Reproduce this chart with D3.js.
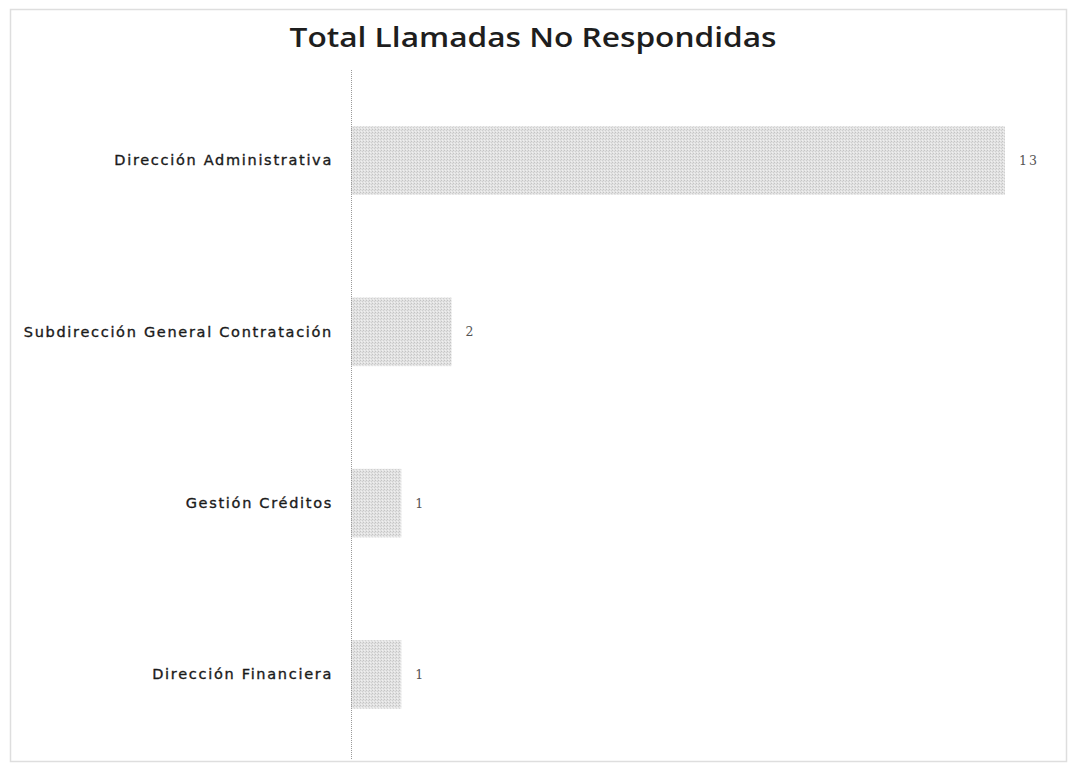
<!DOCTYPE html>
<html>
<head>
<meta charset="utf-8">
<script src="https://cdn.jsdelivr.net/npm/d3@7"></script>
<style>
  html, body { margin: 0; padding: 0; background: #fff; }
  svg { display: block; }
</style>
</head>
<body>
<svg id="chart" width="1071" height="774"></svg>
<script>
// Unanswered calls per department
const categories = [
  "Dirección Administrativa",
  "Subdirección General Contratación",
  "Gestión Créditos",
  "Dirección Financiera"
];
const values = [13, 2, 1, 1];
const chartTitle = "Total Llamadas No Respondidas";

const svg = d3.select("#chart");
const W = 1071, H = 774;

// Frame around the chart area
svg.append("rect")
  .attr("x", 10.5).attr("y", 9.5)
  .attr("width", W - 15).attr("height", H - 22)
  .attr("fill", "#fff")
  .attr("stroke", "#dedede")
  .attr("stroke-width", 1.5);

// Halftone-like fill for the bars
const defs = svg.append("defs");
const pat = defs.append("pattern")
  .attr("id", "barTex")
  .attr("patternUnits", "userSpaceOnUse")
  .attr("width", 3).attr("height", 3);
pat.append("rect").attr("width", 3).attr("height", 3).attr("fill", "#e2e2e2");
pat.append("rect").attr("x", 0).attr("y", 0).attr("width", 1).attr("height", 1).attr("fill", "#c4c4c4");
pat.append("rect").attr("x", 2).attr("y", 1).attr("width", 1).attr("height", 1).attr("fill", "#cfcfcf");
pat.append("rect").attr("x", 1).attr("y", 2).attr("width", 1).attr("height", 1).attr("fill", "#f0f0f0");

const margin = { left: 351, right: 66, top: 75, bottom: 14 };

const x = d3.scaleLinear()
  .domain([0, 13])
  .range([margin.left, W - margin.right]);

const y = d3.scaleBand()
  .domain(categories)
  .range([margin.top, H - margin.bottom])
  .paddingInner(0.6)
  .paddingOuter(0.3);

// Title
svg.append("text")
  .attr("x", 533)
  .attr("y", 47)
  .attr("text-anchor", "middle")
  .attr("font-family", "'Open Sans', Lato, sans-serif")
  .attr("font-weight", 600)
  .attr("font-size", 27)
  .attr("fill", "#1e1e1e")
  .attr("textLength", 487)
  .attr("lengthAdjust", "spacingAndGlyphs")
  .text(chartTitle);

// Bars
svg.append("g")
  .selectAll("rect")
  .data(values)
  .join("rect")
  .attr("x", x(0))
  .attr("y", (d, i) => y(categories[i]))
  .attr("width", d => x(d) - x(0))
  .attr("height", y.bandwidth())
  .attr("fill", "url(#barTex)");

// Category axis
const yAxis = d3.axisLeft(y).tickSize(0).tickPadding(18);
const gy = svg.append("g")
  .attr("transform", `translate(${x(0)},0)`)
  .call(yAxis);
gy.select(".domain").remove();
gy.append("line")
  .attr("x1", 0.5).attr("x2", 0.5)
  .attr("y1", 70).attr("y2", 760)
  .attr("stroke", "#9a9a9a")
  .attr("stroke-width", 1)
  .attr("stroke-dasharray", "1,1");
gy.selectAll(".tick text")
  .attr("font-family", "'DejaVu Sans', Verdana, sans-serif")
  .attr("font-size", 14.5)
  .attr("letter-spacing", "1.7px")
  .attr("fill", "#1a1a1a")
  .attr("stroke", "#1a1a1a")
  .attr("stroke-width", 0.35)
  .attr("dy", "0.32em");

// Value labels
svg.append("g")
  .selectAll("text")
  .data(values)
  .join("text")
  .attr("x", d => x(d) + 14)
  .attr("y", (d, i) => y(categories[i]) + y.bandwidth() / 2)
  .attr("dy", "0.35em")
  .attr("font-family", "'DejaVu Serif', 'Liberation Serif', serif")
  .attr("font-size", 12.5)
  .attr("letter-spacing", "2px")
  .attr("fill", "#555")
  .text(d => d);
</script>
</body>
</html>
